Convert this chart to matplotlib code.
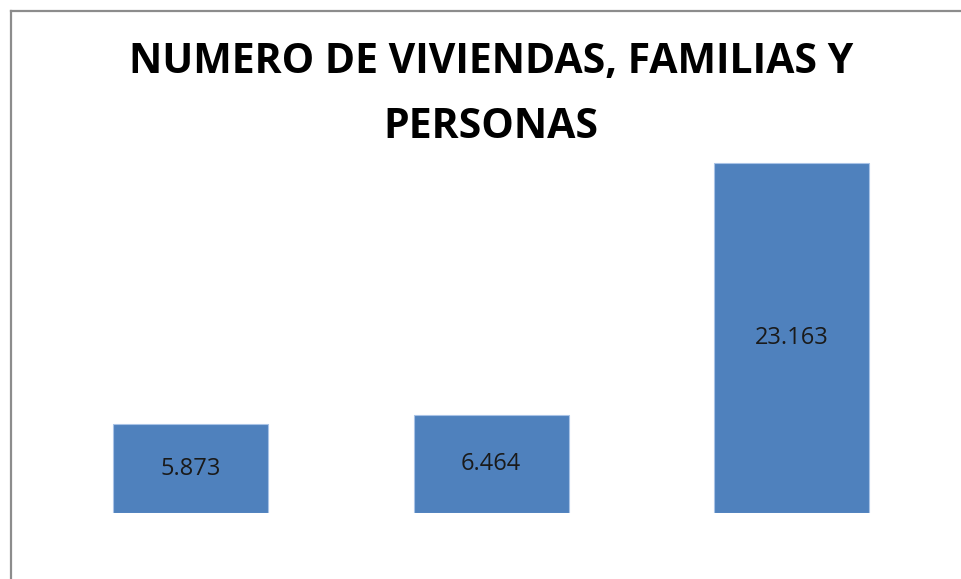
import matplotlib
matplotlib.use("Agg")
import matplotlib.pyplot as plt
from matplotlib.lines import Line2D

categories = ["Viviendas", "Familias", "Personas"]
values = [5873, 6464, 23163]
title_lines = ["NUMERO DE VIVIENDAS, FAMILIAS Y", "PERSONAS"]

W, H = 962, 579
fig = plt.figure(figsize=(W / 100, H / 100), dpi=100)
fig.patch.set_facecolor("white")

bottom_px = 513.3
top_px = 135.0
left_px, right_px = 40.25, 942.0
ax = fig.add_axes([left_px / W, (H - bottom_px) / H,
                   (right_px - left_px) / W, (bottom_px - top_px) / H])
x = list(range(len(categories)))
bars = ax.bar(x, values, width=0.516, color="#4f81bd",
              edgecolor="#a9c3e6", linewidth=0.8)
ax.set_xlim(-0.5, len(categories) - 0.5)
ax.set_ylim(0, 25000)
ax.axis("off")

for xi, v in zip(x, values):
    ax.text(xi, v / 2, f"{v:,}".replace(",", "."), ha="center", va="center",
            fontsize=17, family="Open Sans", color="#1a1a1a")

fig.text(491 / W, 1 - 62 / H, title_lines[0], ha="center", va="center",
         fontsize=29.5, fontweight="bold", family="Open Sans", color="black")
fig.text(491 / W, 1 - 128 / H, title_lines[1], ha="center", va="center",
         fontsize=29.5, fontweight="bold", family="Open Sans", color="black")

# chart border (left and top visible)
fig.add_artist(Line2D([10.5 / W, 10.5 / W], [0, 1 - 10.5 / H],
                      transform=fig.transFigure, color="#8c8c8c", linewidth=1.6))
fig.add_artist(Line2D([10.5 / W, 1], [1 - 10.5 / H, 1 - 10.5 / H],
                      transform=fig.transFigure, color="#8c8c8c", linewidth=1.6))

fig.savefig("out.png", dpi=100, facecolor="white")
